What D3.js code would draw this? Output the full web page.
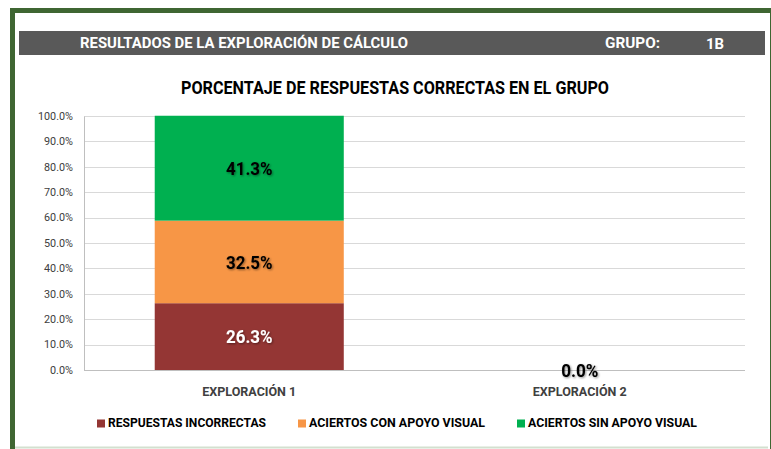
<!DOCTYPE html>
<html>
<head>
<meta charset="utf-8">
<script src="https://cdn.jsdelivr.net/npm/d3@7"></script>
<style>
  body { margin: 0; background: #fff; }
  text { font-family: Roboto, "Liberation Sans", sans-serif; }
</style>
</head>
<body>
<div id="chart"></div>
<script>
const categories = ["EXPLORACIÓN 1", "EXPLORACIÓN 2"];
const seriesNames = ["RESPUESTAS INCORRECTAS", "ACIERTOS CON APOYO VISUAL", "ACIERTOS SIN APOYO VISUAL"];
const incorrectas = [26.3, 0];
const conApoyo = [32.5, 0];
const sinApoyo = [41.3, 0];
const yTicks = [0, 10, 20, 30, 40, 50, 60, 70, 80, 90, 100];
const colors = ["#943634", "#f79646", "#00b050"];

const width = 771, height = 449;
const margin = { top: 116, right: 26, bottom: 79, left: 84 };

// ajusta el ancho del texto al de la referencia (fuente tipo Calibri)
function fit(sel, w) {
  sel.attr("textLength", w).attr("lengthAdjust", "spacingAndGlyphs");
}

const svg = d3.select("#chart").append("svg")
  .attr("width", width)
  .attr("height", height);

// marco verde
svg.append("rect")
  .attr("x", 12.5).attr("y", 10.5)
  .attr("width", 760).attr("height", 446)
  .attr("fill", "#fff")
  .attr("stroke", "#3f6632")
  .attr("stroke-width", 5);
svg.append("line")
  .attr("x1", 15).attr("x2", 768).attr("y1", 447.5).attr("y2", 447.5)
  .attr("stroke", "#d3e0cf").attr("stroke-width", 2);

// banda de encabezado
svg.append("rect")
  .attr("x", 19).attr("y", 31)
  .attr("width", 746).attr("height", 24)
  .attr("fill", "#595959");

const header = svg.append("g")
  .attr("fill", "#fff")
  .style("font-weight", "bold")
  .style("font-size", "14px");
header.append("text").attr("x", 80).attr("y", 48).text("RESULTADOS DE LA EXPLORACIÓN DE CÁLCULO").call(fit, 328);
header.append("text").attr("x", 605).attr("y", 48).text("GRUPO:").call(fit, 55);
header.append("text").attr("x", 706).attr("y", 49).text("1B").call(fit, 18);

svg.append("text")
  .attr("x", 181).attr("y", 94)
  .style("font-weight", "bold")
  .style("font-size", "18px")
  .attr("fill", "#000")
  .text("PORCENTAJE DE RESPUESTAS CORRECTAS EN EL GRUPO")
  .call(fit, 428);

const x = d3.scaleBand()
  .domain(categories)
  .range([margin.left, width - margin.right])
  .paddingInner(0.428)
  .paddingOuter(0.214);

const y = d3.scaleLinear()
  .domain([0, 100])
  .range([height - margin.bottom, margin.top]);

// lineas de cuadricula
svg.append("g")
  .selectAll("line")
  .data(yTicks.slice(1))
  .join("line")
  .attr("x1", margin.left).attr("x2", width - margin.right)
  .attr("y1", d => Math.round(y(d)) + 0.5).attr("y2", d => Math.round(y(d)) + 0.5)
  .attr("stroke", "#d9d9d9");

const yAxis = svg.append("g")
  .attr("transform", `translate(${margin.left},0)`)
  .call(d3.axisLeft(y).tickValues(yTicks).tickSize(0).tickPadding(11).tickFormat(d => d.toFixed(1) + "%"));
yAxis.select(".domain").attr("stroke", "#bfbfbf");
yAxis.selectAll("text")
  .style("font-size", "10px")
  .attr("fill", "#404040")
  .each(function (d) {
    d3.select(this).call(fit, (d.toFixed(1) + "%").length * 6 - 1);
  });

const stack = d3.stack().keys([0, 1, 2]);
const rows = categories.map((c, i) => ({ cat: c, 0: incorrectas[i], 1: conApoyo[i], 2: sinApoyo[i] }));
const stacked = stack(rows);

const layers = svg.append("g").selectAll("g")
  .data(stacked)
  .join("g")
  .attr("fill", (d, i) => colors[i]);

layers.selectAll("rect")
  .data(d => d.map(p => ({ p, cat: p.data.cat })))
  .join("rect")
  .attr("x", d => x(d.cat))
  .attr("width", x.bandwidth())
  .attr("y", d => y(d.p[1]))
  .attr("height", d => y(d.p[0]) - y(d.p[1]));

// eje x
svg.append("line")
  .attr("x1", margin.left).attr("x2", width - margin.right)
  .attr("y1", y(0) + 0.5).attr("y2", y(0) + 0.5)
  .attr("stroke", "#bfbfbf");

const xAxis = svg.append("g")
  .attr("transform", `translate(0,${y(0)})`)
  .call(d3.axisBottom(x).tickSize(0).tickPadding(0));
xAxis.select(".domain").remove();
xAxis.selectAll("text")
  .attr("dy", null)
  .attr("y", 25.7)
  .style("font-size", "12.5px")
  .style("font-weight", "bold")
  .attr("fill", "#404040")
  .call(fit, 94);

// etiquetas de datos
const defs = svg.append("defs");
const filt = defs.append("filter").attr("id", "sombra").attr("x", "-20%").attr("y", "-30%").attr("width", "140%").attr("height", "160%");
filt.append("feDropShadow").attr("dx", 1).attr("dy", 1).attr("stdDeviation", 1).attr("flood-color", "#000").attr("flood-opacity", 0.45);

const labels = [];
stacked.forEach((layer, i) => {
  layer.forEach(p => {
    const v = p[1] - p[0];
    if (v > 0) labels.push({ cat: p.data.cat, y: (p[0] + p[1]) / 2, v, color: i === 0 ? "#fff" : "#000" });
  });
});
categories.forEach((c, i) => {
  if (incorrectas[i] + conApoyo[i] + sinApoyo[i] === 0) labels.push({ cat: c, y: 0, v: 0, color: "#000" });
});

svg.append("g").selectAll("text")
  .data(labels)
  .join("text")
  .attr("x", d => x(d.cat) + x.bandwidth() / 2)
  .attr("y", d => y(d.y))
  .attr("dy", "0.38em")
  .attr("text-anchor", "middle")
  .attr("fill", d => d.color)
  .attr("filter", "url(#sombra)")
  .style("font-weight", "bold")
  .style("font-size", "18px")
  .text(d => d.v.toFixed(1) + "%")
  .each(function (d) {
    d3.select(this).call(fit, (d.v.toFixed(1) + "%").length * 9.3);
  });

// leyenda
const legendX = [97, 298, 517];
const legendW = [158, 176, 169];
const legend = svg.append("g").selectAll("g")
  .data(seriesNames)
  .join("g")
  .attr("transform", (d, i) => `translate(${legendX[i]},427)`);
legend.append("rect")
  .attr("x", 0).attr("y", -7.5).attr("width", 8).attr("height", 8)
  .attr("fill", (d, i) => colors[i]);
legend.append("text")
  .attr("x", 11).attr("y", 0)
  .style("font-size", "13px")
  .style("font-weight", "bold")
  .attr("fill", "#000")
  .text(d => d)
  .each(function (d, i) {
    d3.select(this).call(fit, legendW[i]);
  });
</script>
</body>
</html>
